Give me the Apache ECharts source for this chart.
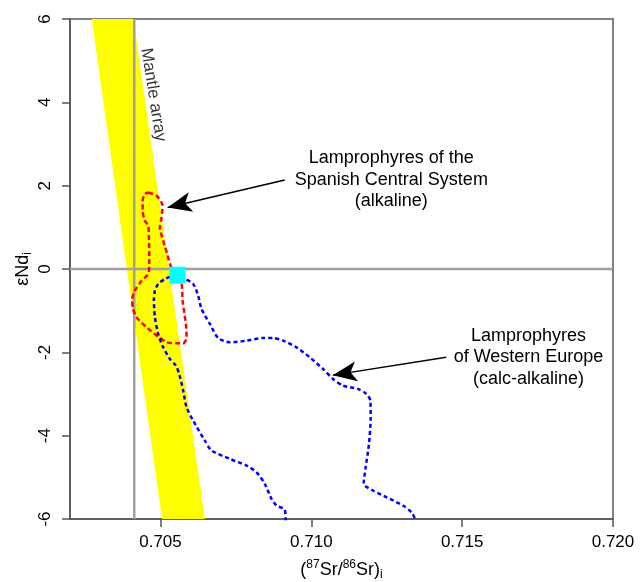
<!DOCTYPE html>
<html><head><meta charset="utf-8">
<script src="https://cdn.jsdelivr.net/npm/echarts@6/dist/echarts.min.js"></script>
<style>html,body{margin:0;padding:0;background:#fff}#c{width:644px;height:582px}</style>
</head><body><div id="c"></div>
<script>
// ---- data ----
const xTicks = [0.705, 0.710, 0.715, 0.720];
const yTicks = [-6, -4, -2, 0, 2, 4, 6];
const bandX = [0.70272, 0.70410, 0.70647, 0.70505];
const bandY = [6, 6, -6, -6];
const refLineX = 0.70413;
const refLineY = 0;
const spanishX = [0.704593,0.704871,0.705070,0.705036,0.704980,0.705089,0.705222,0.705334,0.705477,0.705699,0.705732,0.705841,0.705864,0.705752,0.705533,0.705222,0.704980,0.704540,0.704209,0.704076,0.704063,0.704152,0.704374,0.704593,0.704626,0.704626,0.704616,0.704593,0.704483,0.704407,0.704407,0.704483,0.704593];
const spanishY = [1.837,1.758,1.518,1.237,0.998,0.679,0.360,0.079,-0.137,-0.360,-0.760,-1.319,-1.647,-1.784,-1.784,-1.760,-1.655,-1.400,-1.161,-0.921,-0.719,-0.520,-0.281,-0.120,0.120,0.439,0.758,1.038,1.158,1.398,1.638,1.799,1.837];
const westernX = [0.709150,0.709119,0.708844,0.708679,0.708457,0.708182,0.707851,0.707298,0.706692,0.706470,0.706083,0.705864,0.705752,0.705619,0.705510,0.705311,0.705089,0.704924,0.704815,0.704781,0.704815,0.704924,0.705146,0.705368,0.705808,0.706083,0.706248,0.706361,0.706636,0.706911,0.707298,0.707851,0.708401,0.708732,0.709063,0.709507,0.709947,0.710387,0.710719,0.711050,0.711546,0.711825,0.711957,0.711967,0.711911,0.711801,0.711735,0.712043,0.712487,0.713036,0.713315,0.713480];
const westernY = [-6.05,-5.779,-5.676,-5.516,-5.156,-4.878,-4.717,-4.556,-4.357,-4.118,-3.638,-3.319,-2.918,-2.518,-2.319,-2.158,-1.880,-1.559,-1.161,-0.760,-0.520,-0.360,-0.240,-0.185,-0.240,-0.360,-0.640,-0.959,-1.319,-1.655,-1.760,-1.719,-1.655,-1.655,-1.719,-1.880,-2.120,-2.398,-2.638,-2.799,-2.878,-2.998,-3.158,-3.559,-4.197,-4.758,-5.156,-5.317,-5.477,-5.676,-5.837,-6.05];
const sampleX = [0.70556];
const sampleY = [-0.15];
const arrowSpanish = [[0.709119, 2.134], [0.705235, 1.477]];
const arrowWestern = [[0.714474, -2.120], [0.710709, -2.547]];
const labelTexts = ['Lamprophyres of the\nSpanish Central System\n(alkaline)', 'Lamprophyres\nof Western Europe\n(calc-alkaline)'];
const labelX = [0.712652, 0.717199];
const labelY = [2.141, -2.120];
const mantleText = 'Mantle array';
const mantleXY = [0.704760, 4.18];

// ---- chart ----
const zip = (xs, ys) => xs.map((x, i) => [x, ys[i]]);
const FONT = '"Liberation Sans", Arial, sans-serif';
const chart = echarts.init(document.getElementById('c'), null, {renderer: 'canvas'});
const option = {
  animation: false,
  backgroundColor: '#ffffff',
  textStyle: {fontFamily: FONT},
  grid: {left: 70, right: 31, top: 19, bottom: 63, containLabel: false, outerBoundsMode: 'none',
    show: true, borderColor: '#808080', borderWidth: 2, backgroundColor: 'transparent'},
  xAxis: {
    type: 'value', min: 0.702, max: 0.720,
    splitLine: {show: false},
    axisLine: {onZero: false, lineStyle: {color: '#555', width: 1.5}},
    axisTick: {customValues: xTicks, length: 8, lineStyle: {color: '#555', width: 1.5}},
    axisLabel: {customValues: xTicks, formatter: v => v.toFixed(3), fontSize: 17, color: '#000', margin: 15, fontFamily: FONT},
    name: '({sup|87}Sr/{sup|86}Sr){sub|i}',
    nameLocation: 'middle', nameGap: 40, nameMoveOverlap: false,
    nameTextStyle: {fontSize: 18, color: '#000', fontFamily: FONT, lineHeight: 22,
      rich: {sup: {fontSize: 12, verticalAlign: 'top', lineHeight: 12, fontFamily: FONT, color: '#000'},
             sub: {fontSize: 12, verticalAlign: 'bottom', lineHeight: 12, fontFamily: FONT, color: '#000'}}}
  },
  yAxis: {
    type: 'value', min: -6, max: 6, interval: 2,
    splitLine: {show: false},
    axisLine: {onZero: false, lineStyle: {color: '#555', width: 1.5}},
    axisTick: {length: 8, lineStyle: {color: '#555', width: 1.5}},
    axisLabel: {rotate: 90, fontSize: 17, color: '#000', margin: 16, showMinLabel: true, showMaxLabel: true, fontFamily: FONT},
    name: 'εNd{sub|i}',
    nameLocation: 'middle', nameGap: 36, nameRotate: 90, nameMoveOverlap: false,
    nameTextStyle: {fontSize: 18, color: '#000', fontFamily: FONT, lineHeight: 22,
      rich: {sub: {fontSize: 12, verticalAlign: 'bottom', lineHeight: 12, fontFamily: FONT, color: '#000'}}}
  },
  series: [
    {
      type: 'custom', name: 'band', clip: true, silent: true, z: 1,
      data: [0],
      renderItem: (params, api) => ({
        type: 'polygon',
        shape: {points: bandX.map((x, i) => api.coord([x, bandY[i]]))},
        style: {fill: '#ffff00'}
      })
    },
    {
      type: 'line', name: 'vref', data: [[refLineX, -6], [refLineX, 6]], symbol: 'none', silent: true, z: 2,
      lineStyle: {color: '#a0a0a0', width: 2.5}
    },
    {
      type: 'line', name: 'href', data: [[0.702, refLineY], [0.720, refLineY]], symbol: 'none', silent: true, z: 2,
      lineStyle: {color: '#a0a0a0', width: 2.5}
    },
    {
      type: 'line', name: 'spanish', data: zip(spanishX, spanishY), symbol: 'none', smooth: 0.25, z: 3, silent: true,
      lineStyle: {color: '#ff0000', width: 2.5, type: [5, 3]}
    },
    {
      type: 'line', name: 'western', data: zip(westernX, westernY), symbol: 'none', smooth: 0.25, z: 3, silent: true, clip: true,
      lineStyle: {color: '#0000ff', width: 2.5, type: [4, 3]}
    },
    {
      type: 'scatter', name: 'sample', data: zip(sampleX, sampleY), symbol: 'rect', symbolSize: [16, 17], z: 5, silent: true,
      itemStyle: {color: '#00ffff', opacity: 1}
    },
    {
      type: 'scatter', name: 'labels', data: labelX.map((x, i) => ({value: [x, labelY[i]], label: {formatter: labelTexts[i]}})),
      symbolSize: 0, z: 6, silent: true,
      label: {show: true, position: 'inside', align: 'center', verticalAlign: 'middle', fontSize: 18, lineHeight: 21.7, color: '#000', textBorderWidth: 0, opacity: 1, fontFamily: FONT},
      markLine: {
        silent: true, symbol: ['none', 'arrow'], symbolSize: [15, 24],
        label: {show: false},
        lineStyle: {color: '#000', width: 1.5, type: 'solid', opacity: 1},
        data: [
          [{coord: arrowSpanish[0]}, {coord: arrowSpanish[1]}],
          [{coord: arrowWestern[0]}, {coord: arrowWestern[1]}]
        ]
      }
    },
    {
      type: 'scatter', name: 'mantle', data: [mantleXY], symbolSize: 0, z: 6, silent: true,
      label: {show: true, position: 'inside', formatter: mantleText, rotate: -81, fontSize: 17, color: '#000', textBorderWidth: 0, fontFamily: FONT}
    }
  ]
};
chart.setOption(option);
</script></body></html>
